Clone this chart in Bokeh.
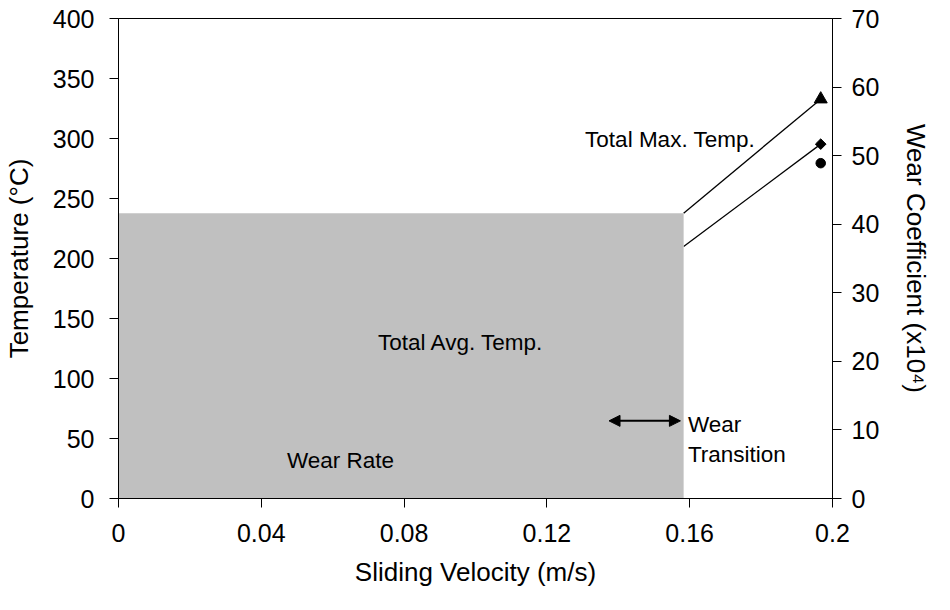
from bokeh.plotting import figure
from bokeh.models import (Range1d, LinearAxis, FixedTicker, CustomJSTickFormatter,
                          Label, Arrow, NormalHead)
from bokeh.embed import file_html
from bokeh.resources import INLINE

# ---- data ----
max_velocity = [0.1583, 0.1967]
max_temp = [237.8, 332.8]
avg_velocity = [0.1583, 0.1967]
avg_temp = [210.0, 295.3]
wear_velocity = [0.0, 0.0013, 0.1967]
wear_coef = [0.5, 0.0, 48.9]
shade_velocity = [0.0, 0.1583]
shade_temp = [0.0, 237.8]
transition_velocity = [0.1374, 0.1574]
transition_temp = 64.7
x_ticks = [0, 0.04, 0.08, 0.12, 0.16, 0.2]
temp_ticks = [0, 50, 100, 150, 200, 250, 300, 350, 400]
wear_ticks = [0, 10, 20, 30, 40, 50, 60, 70]

FONT = "Liberation Sans"
TICK_SIZE = "25px"
TITLE_SIZE = "26px"
NOTE_SIZE = "22.5px"

p = figure(width=934, height=594, output_backend="svg", toolbar_location=None,
           x_range=Range1d(0, 0.2), y_range=Range1d(0, 400),
           min_border_left=114, min_border_right=96, min_border_top=18, min_border_bottom=96)
p.extra_y_ranges = {"wear": Range1d(0, 70)}
p.xgrid.visible = False
p.ygrid.visible = False
p.outline_line_color = "black"
p.outline_line_width = 1
p.background_fill_color = "white"
p.border_fill_color = "white"

# series
p.line(max_velocity, max_temp, line_color="black", line_width=1.3)
p.scatter(max_velocity[-1:], max_temp[-1:], marker="triangle", size=13, color="black")
p.line(avg_velocity, avg_temp, line_color="black", line_width=1.3)
p.scatter(avg_velocity[-1:], avg_temp[-1:], marker="square", angle=0.7854, size=7.5, color="black")
p.scatter(wear_velocity, wear_coef, marker="circle", size=9.5, color="black", y_range_name="wear")

# grey shaded block drawn on top
p.quad(left=shade_velocity[0], right=shade_velocity[1], bottom=shade_temp[0], top=shade_temp[1],
       fill_color="#C0C0C0", line_color=None)

# axes
def style_axis(ax):
    ax.axis_line_color = "black"
    ax.major_tick_line_color = "black"
    ax.minor_tick_line_color = None
    ax.major_tick_in = 0
    ax.major_tick_out = 9
    ax.major_label_text_font = FONT
    ax.major_label_text_font_size = TICK_SIZE
    ax.major_label_text_color = "black"
    ax.axis_label_text_font = FONT
    ax.axis_label_text_font_size = TITLE_SIZE
    ax.axis_label_text_font_style = "normal"
    ax.axis_label_text_color = "black"

xa = p.xaxis[0]
style_axis(xa)
xa.ticker = FixedTicker(ticks=x_ticks)
xa.formatter = CustomJSTickFormatter(code="return String(Math.round(tick*100)/100);")
xa.axis_label = "Sliding Velocity (m/s)"
xa.major_label_standoff = 16
xa.axis_label_standoff = 12

ya = p.yaxis[0]
style_axis(ya)
ya.ticker = FixedTicker(ticks=temp_ticks)
ya.axis_label = "Temperature (°C)"
ya.major_label_standoff = 15
ya.axis_label_standoff = 16

ra = LinearAxis(y_range_name="wear", axis_label="Wear Coefficient (x10⁴)")
style_axis(ra)
ra.ticker = FixedTicker(ticks=wear_ticks)
ra.major_label_standoff = 10
ra.axis_label_standoff = 19
p.add_layout(ra, "right")

# annotations
def note(text, x, y):
    p.add_layout(Label(x=x, y=y, text=text, text_font=FONT, text_font_size=NOTE_SIZE,
                       text_color="black", text_baseline="middle", text_align="left"))

note("Total Max. Temp.", 0.1307, 299)
note("Total Avg. Temp.", 0.0727, 130)
note("Wear Rate", 0.0472, 32)
note("Wear", 0.1595, 61.4)
note("Transition", 0.1595, 36.9)

p.add_layout(Arrow(start=NormalHead(size=11, fill_color="black", line_color="black"),
                   end=NormalHead(size=11, fill_color="black", line_color="black"),
                   x_start=transition_velocity[0], x_end=transition_velocity[1],
                   y_start=transition_temp, y_end=transition_temp,
                   line_width=2, line_color="black"))

open("out.html", "w").write(file_html(p, INLINE))
